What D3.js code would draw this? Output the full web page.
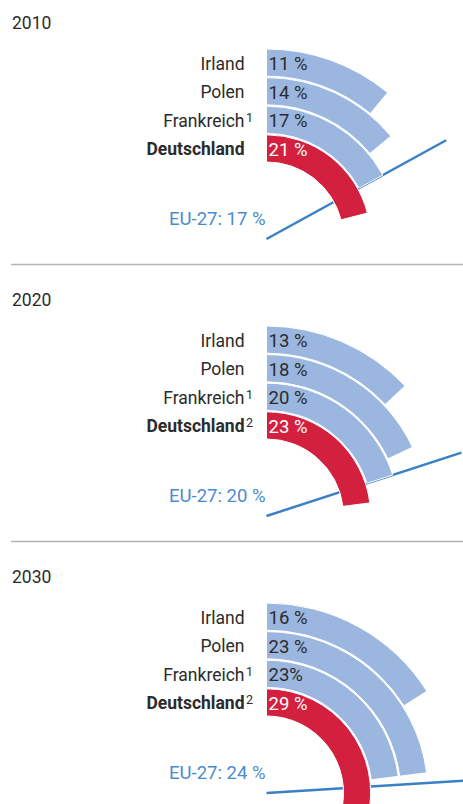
<!DOCTYPE html>
<html>
<head>
<meta charset="utf-8">
<script src="https://cdn.jsdelivr.net/npm/d3@7"></script>
<style>
  body { margin: 0; background: #fff; }
  text { font-family: Roboto, "Open Sans", sans-serif; }
</style>
</head>
<body>
<script>
// data
var years = ["2010", "2020", "2030"];
var countries = ["Deutschland", "Frankreich", "Polen", "Irland"];   // inner -> outer ring
var notes2010 = ["", "1", "", ""];
var notes2020 = ["2", "1", "", ""];
var notes2030 = ["2", "1", "", ""];
var values2010 = [21, 17, 14, 11];
var values2020 = [23, 20, 18, 13];
var values2030 = [29, 23, 23, 16];
var labels2010 = ["21 %", "17 %", "14 %", "11 %"];
var labels2020 = ["23 %", "20 %", "18 %", "13 %"];
var labels2030 = ["29 %", "23%", "23 %", "16 %"];
var eu27 = [17, 20, 24];

var notes = [notes2010, notes2020, notes2030];
var values = [values2010, values2020, values2030];
var labels = [labels2010, labels2020, labels2030];

var width = 463, height = 804;
var panelH = 277;
var cx = 266.5, cy0 = 239;

var svg = d3.select("body")
  .append("svg")
    .attr("width", width)
    .attr("height", height);

// radius per country, angle per percent (100 % = full circle)
var r = d3.scaleBand()
    .domain(countries)
    .range([77, 190])
    .paddingInner(0.05);

var a = d3.scaleLinear()
    .domain([0, 100])
    .range([0, 2 * Math.PI]);

var arc = d3.arc()
    .innerRadius(function(d) { return r(d.country); })
    .outerRadius(function(d) { return r(d.country) + r.bandwidth(); })
    .startAngle(0)
    .endAngle(function(d) { return a(d.value); });

var lineLen = 205;

years.forEach(function(year, i) {
  var top = i * panelH;

  // separator above the panel
  if (i > 0) {
    svg.append("line")
      .attr("x1", 11).attr("x2", width)
      .attr("y1", top - 12.5).attr("y2", top - 12.5)
      .attr("stroke", "#b3b3b3")
      .attr("stroke-width", 1.5);
  }

  svg.append("text")
    .attr("x", 12)
    .attr("y", top + 29)
    .attr("font-size", 17.5)
    .attr("fill", "#2b2b2b")
    .text(year);

  var g = svg.append("g")
    .attr("transform", "translate(" + cx + "," + (cy0 + top) + ")");

  var rows = countries.map(function(c, j) {
    return { country: c, value: values[i][j], label: labels[i][j], note: notes[i][j] };
  });

  // EU-27 reference line (behind the arcs)
  var ea = a(eu27[i]);
  g.append("line")
    .attr("x1", 0).attr("y1", 0)
    .attr("x2", lineLen * Math.sin(ea))
    .attr("y2", -lineLen * Math.cos(ea))
    .attr("stroke", "#3a80c6")
    .attr("stroke-width", 2.5);

  g.append("text")
    .attr("x", -1)
    .attr("y", -14)
    .attr("text-anchor", "end")
    .attr("font-size", 18.5)
    .attr("fill", "#4a8bd0")
    .text("EU-27: " + eu27[i] + " %");

  g.selectAll("path.ring")
    .data(rows)
    .enter().append("path")
      .attr("class", "ring")
      .attr("d", arc)
      .attr("fill", function(d) { return d.country == "Deutschland" ? "#d4203f" : "#9bb7e0"; })
      .attr("stroke", "#fff")
      .attr("stroke-width", 1);

  var mid = function(d) { return -(r(d.country) + r.bandwidth() / 2); };

  // country names
  g.selectAll("text.name")
    .data(rows)
    .enter().append("text")
      .attr("class", "name")
      .attr("x", -22)
      .attr("y", mid)
      .attr("dy", "0.4em")
      .attr("text-anchor", "end")
      .attr("font-size", 17.5)
      .attr("font-weight", function(d) { return d.country == "Deutschland" ? "bold" : "normal"; })
      .attr("fill", "#2b2b2b")
      .text(function(d) { return d.country; });

  // footnote markers
  g.selectAll("text.note")
    .data(rows.filter(function(d) { return d.note; }))
    .enter().append("text")
      .attr("class", "note")
      .attr("x", -20.5)
      .attr("y", mid)
      .attr("dy", "0.15em")
      .attr("font-size", 12.5)
      .attr("fill", "#2b2b2b")
      .text(function(d) { return d.note; });

  // values
  g.selectAll("text.val")
    .data(rows)
    .enter().append("text")
      .attr("class", "val")
      .attr("x", 2)
      .attr("y", mid)
      .attr("dy", "0.4em")
      .attr("font-size", 18.5)
      .attr("fill", function(d) { return d.country == "Deutschland" ? "#fff" : "#2b2b2b"; })
      .text(function(d) { return d.label; });
});
</script>
</body>
</html>
